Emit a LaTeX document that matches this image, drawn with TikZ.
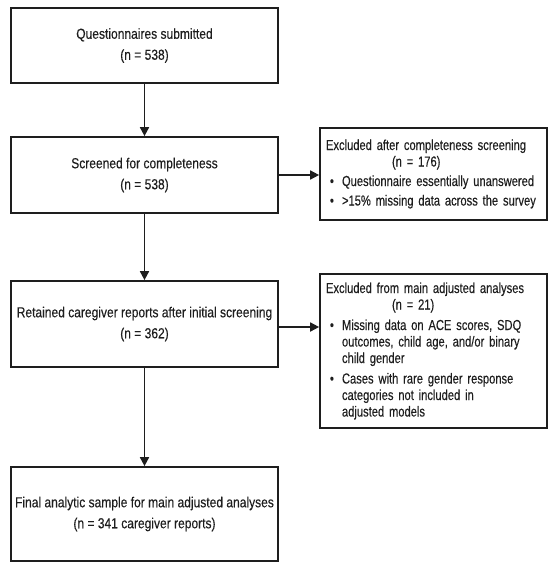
\documentclass[tikz,border=0pt]{standalone}
\usepackage{fontspec}
\setmainfont{Liberation Sans}[FakeStretch=0.83,FakeBold=0.3]
\newfontfamily\exfont{Liberation Sans}[FakeStretch=0.77,FakeBold=0.3]
\usetikzlibrary{arrows.meta,calc}
\definecolor{ink}{HTML}{1E1E1E}
\tikzset{
  mainbox/.style={draw=ink, line width=1.7pt, rectangle, minimum width=267pt, align=center,
    font=\fontsize{14.5}{21}\selectfont, text=ink, inner sep=0pt},
  exbox/.style={draw=ink, line width=1.7pt, rectangle, minimum width=227pt, align=left,
    font=\exfont\fontsize{14.5}{16.5}\selectfont, text=ink, inner xsep=6pt, inner ysep=0pt, text width=215pt},
  arr/.style={draw=ink, line width=1.7pt, -{Triangle[length=9pt,width=9pt]}},
}
\newcommand{\bul}{\makebox[16pt][l]{\hspace{4pt}\textbullet}}
\newcommand{\ind}{\hspace*{16pt}}
\begin{document}
\begin{tikzpicture}[x=1pt,y=-1pt]
\useasboundingbox (0,0) rectangle (550,573);
\node[mainbox, minimum height=75pt] (b1) at (144.5,45.5) {Questionnaires submitted\\(n = 538)};
\node[mainbox, minimum height=76pt] (b2) at (144.5,175) {Screened for completeness\\(n = 538)};
\node[mainbox, minimum height=86pt] (b3) at (144.5,324) {Retained caregiver reports after initial screening\\(n = 362)};
\node[mainbox, minimum height=94pt] (b4) at (144.5,514) {Final analytic sample for main adjusted analyses\\(n = 341 caregiver reports)};
\node[exbox, minimum height=92pt] (e1) at (433.5,174) {Excluded after completeness screening\\
\hspace*{66pt}(n = 176)\\[3pt]
\bul Questionnaire essentially unanswered\\[3pt]
\bul >15\% missing data across the survey};
\node[exbox, minimum height=154pt] (e2) at (433.5,351) {Excluded from main adjusted analyses\\
\hspace*{66pt}(n = 21)\\[4pt]
\bul Missing data on ACE scores, SDQ\\
\ind outcomes, child age, and/or binary\\
\ind child gender\\[4pt]
\bul Cases with rare gender response\\
\ind categories not included in\\
\ind adjusted models};
\draw[arr] (b1) -- (b2);
\draw[arr] (b2) -- (b3);
\draw[arr] (b3) -- (b4);
\draw[arr] (b2.east) -- (b2.east -| e1.west);
\draw[arr] ($(b3.east)+(0,3)$) -- ($(b3.east -| e2.west)+(0,3)$);
\end{tikzpicture}
\end{document}
